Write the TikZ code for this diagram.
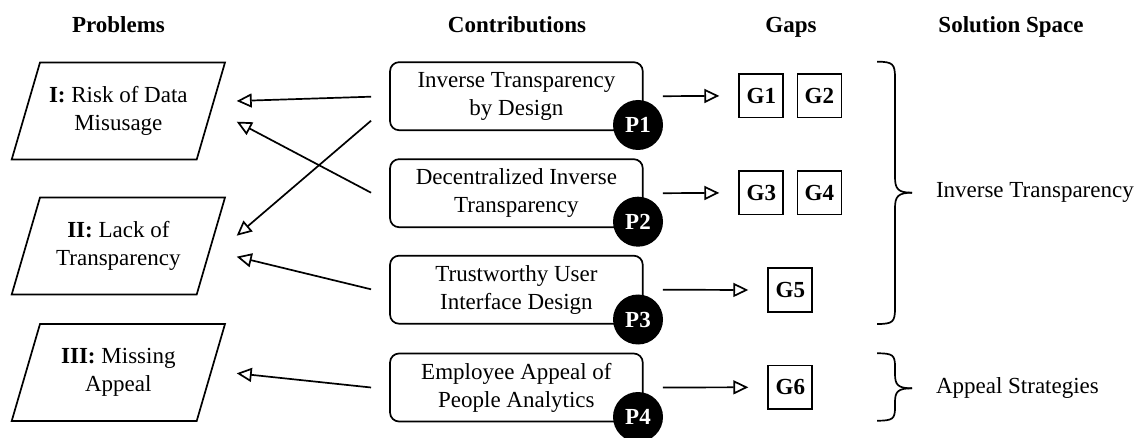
\documentclass[tikz,border=0pt]{standalone}
\usepackage{fontspec}
\setmainfont{Liberation Serif}
\usetikzlibrary{arrows.meta,calc}
\begin{document}
\begin{tikzpicture}[x=1pt,y=-1pt,
  every node/.style={inner sep=0pt, outer sep=0pt},
  txt/.style={font=\fontsize{23}{28}\selectfont},
  header/.style={font=\fontsize{23}{28}\selectfont\bfseries, anchor=base},
  problem/.style={txt, minimum width=213.3pt, minimum height=97pt, align=center},
  contrib/.style={txt, draw, line width=1.7pt, rounded corners=9pt,
    minimum width=252.7pt, minimum height=68pt, align=center},
  badge/.style={circle, fill=black, minimum size=50pt, text=white,
    font=\fontsize{23}{28}\selectfont\bfseries},
  gapbox/.style={draw, line width=1.7pt, minimum width=44pt, minimum height=43.5pt,
    font=\fontsize{23}{28}\selectfont\bfseries},
  link/.style={line width=1.7pt,
    -{Triangle[open, length=15pt, width=14pt, line width=1.7pt]}},
  outline/.style={line width=1.7pt, line join=miter},
  bracket/.style={line width=1.7pt},
]
\useasboundingbox (0,0) rectangle (1143,438);

% column headers
\node[header] (hP) at (118.5,33) {Problems};
\node[header] (hC) at (517,33) {Contributions};
\node[header] (hG) at (791,33) {Gaps};
\node[header] (hS) at (1011,33) {Solution Space};

% problems (parallelograms drawn around the text nodes)
\node[problem] (pI)   at (118.35,111)   {\textbf{I:} Risk of Data\\Misusage};
\node[problem] (pII)  at (118.35,246)   {\textbf{II:} Lack of\\Transparency};
\node[problem] (pIII) at (118.35,372.5) {\textbf{III:} Missing\\Appeal};
\foreach \n in {pI,pII,pIII}
  \draw[outline] (\n.south west) -- ($(\n.south east)+(-28.3,0)$)
    -- (\n.north east) -- ($(\n.north west)+(28.3,0)$) -- cycle;

% contributions
\node[contrib] (c1) at (516.4,96.2)  {Inverse Transparency\\by Design};
\node[contrib] (c2) at (516.4,193.2) {Decentralized Inverse\\Transparency};
\node[contrib] (c3) at (516.4,289.7) {Trustworthy User\\Interface Design};
\node[contrib] (c4) at (516.4,387.5) {Employee Appeal of\\People Analytics};

\node[badge] (b1) at (638,125)   {P1};
\node[badge] (b2) at (638,221.7) {P2};
\node[badge] (b3) at (638,319.5) {P3};
\node[badge] (b4) at (638,417)   {P4};

% gaps
\node[gapbox] (g1) at (761.3,95.9)  {G1};
\node[gapbox] (g2) at (819.4,95.9)  {G2};
\node[gapbox] (g3) at (761.3,192.9) {G3};
\node[gapbox] (g4) at (819.4,192.9) {G4};
\node[gapbox] (g5) at (790.3,290)   {G5};
\node[gapbox] (g6) at (790.3,387.3) {G6};

% contributions -> gaps
\draw[link] ($(c1.east)+(20,0)$) -- ($(g1.west)+(-20,0)$);
\draw[link] ($(c2.east)+(20,0)$) -- ($(g3.west)+(-20,0)$);
\draw[link] ($(c3.east)+(20,0)$) -- ($(g5.west)+(-20,0)$);
\draw[link] ($(c4.east)+(20,0)$) -- ($(g6.west)+(-20,0)$);

% contributions -> problems
\draw[link] ($(c1.west)+(-19,0.5)$)  -- ($(pI.east)+(11.7,-10)$);
\draw[link] ($(c2.west)+(-19,-0.5)$) -- ($(pI.east)+(11.7,10.7)$);
\draw[link] ($(c1.west)+(-19,24.5)$) -- ($(pII.east)+(11.7,-10.3)$);
\draw[link] ($(c3.west)+(-19,-0.4)$) -- ($(pII.east)+(11.7,10.7)$);
\draw[link] ($(c4.west)+(-19,0)$)    -- ($(pIII.east)+(11.7,0.8)$);

% solution space braces
\draw[bracket] (877,61.7) .. controls (893,61.7) and (895,64) .. (895,78)
  -- (895,177) .. controls (895,189) and (898,192.7) .. (912,192.7);
\draw[bracket] (912,192.7) .. controls (898,192.7) and (895,196.5) .. (895,208)
  -- (895,308) .. controls (895,322) and (893,324) .. (877,324);
\draw[bracket] (877,353.3) .. controls (893,353.3) and (895,355) .. (895,367)
  -- (895,374) .. controls (895,385) and (898,388.3) .. (912,388.3);
\draw[bracket] (912,388.3) .. controls (898,388.3) and (895,391.5) .. (895,402)
  -- (895,407) .. controls (895,419) and (893,420.7) .. (877,420.7);

\node[txt, anchor=west] (s1) at (936,192.7) {Inverse Transparency};
\node[txt, anchor=west] (s2) at (936,388.3) {Appeal Strategies};
\end{tikzpicture}
\end{document}
